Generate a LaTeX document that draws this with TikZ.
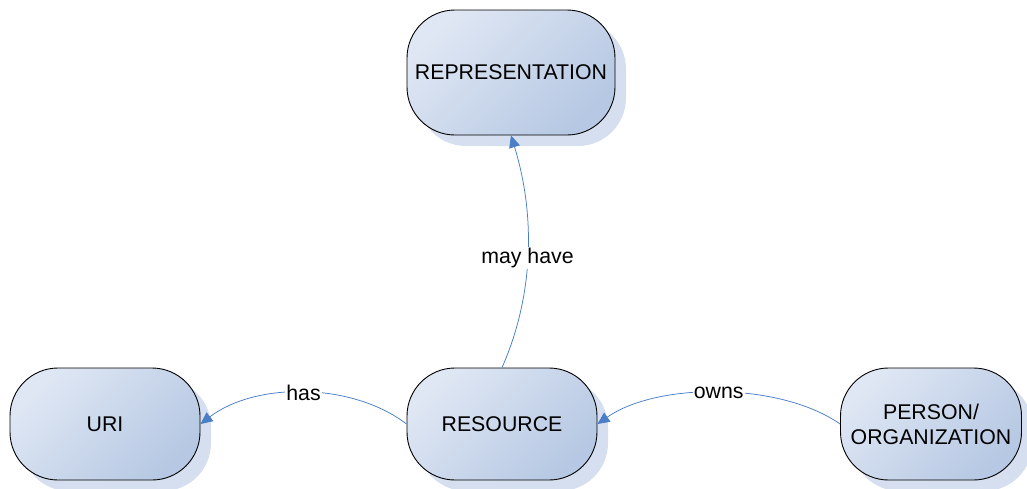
\documentclass[tikz,border=0pt]{standalone}
\usepackage{fontspec}
\setmainfont{Liberation Sans}
\usetikzlibrary{arrows.meta,shadows}
\definecolor{lightfill}{HTML}{DFE7F4}
\definecolor{darkfill}{HTML}{B6C8E3}
\definecolor{shadowc}{HTML}{D5DFEF}
\definecolor{edgec}{HTML}{4A7EC7}
\begin{document}
\begin{tikzpicture}[x=1pt,y=1pt,
  concept/.style={draw=black, line width=0.9pt, rectangle, rounded corners=48pt,
    top color=lightfill, bottom color=darkfill, shading angle=45,
    drop shadow={shadow xshift=11pt, shadow yshift=-11pt, fill=shadowc, opacity=1},
    minimum width=190pt, minimum height=112pt, align=center,
    font=\fontsize{21.3}{25}\selectfont, inner sep=2pt},
  edge/.style={draw=edgec, line width=0.75pt, -{Triangle[length=12pt,width=11pt]}},
  elabel/.style={fill=white, inner sep=1pt, font=\fontsize{21.3}{25}\selectfont, text=black}]
\useasboundingbox (0,0) rectangle (1027,-488);
\node[concept, minimum width=208pt, minimum height=125pt] (rep) at (511,-72.5) {REPRESENTATION};
\node[concept] (uri) at (105,-424) {URI};
\node[concept] (res) at (502,-424) {RESOURCE};
\node[concept, minimum width=181pt] (per) at (931,-424) {PERSON/\\ORGANIZATION};
\draw[edge] (res.north) .. controls (532,-300) and (537,-220) .. node[elabel, pos=0.5] {may have} (rep.south);
\draw[edge] (res.west) .. controls +(-55,42) and +(55,42) .. node[elabel, pos=0.5] {has} (uri.east);
\draw[edge] (per.west) .. controls +(-60,42) and +(60,42) .. node[elabel, pos=0.5] {owns} (res.east);
\end{tikzpicture}
\end{document}
